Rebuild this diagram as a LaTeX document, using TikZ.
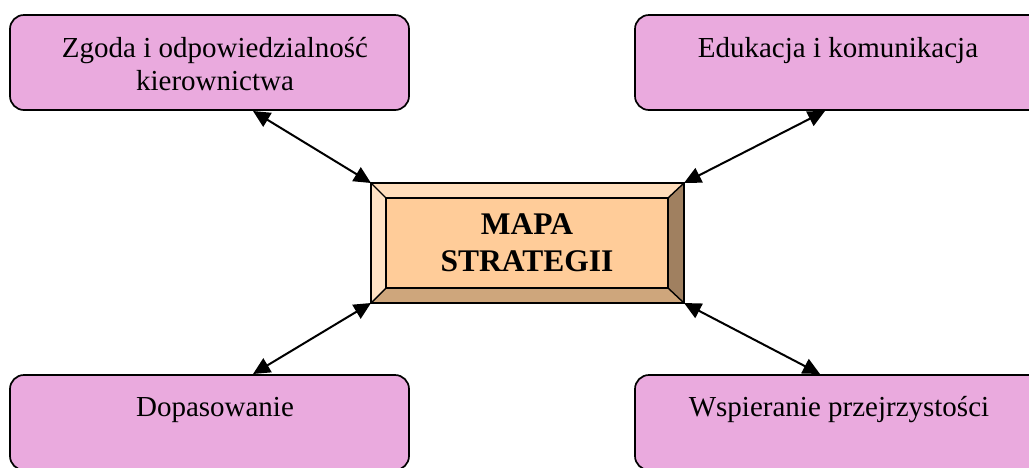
\documentclass[tikz,border=0pt]{standalone}
\usepackage{fontspec}
\setmainfont{Liberation Serif}
\usetikzlibrary{arrows.meta}
\definecolor{boxpink}{RGB}{234,170,222}
\definecolor{corepeach}{RGB}{255,204,153}
\definecolor{facetop}{RGB}{255,221,187}
\definecolor{faceleft}{RGB}{255,226,196}
\definecolor{faceright}{RGB}{160,128,96}
\definecolor{facebottom}{RGB}{206,166,124}
\begin{document}
\begin{tikzpicture}[x=1pt,y=-1pt,
  goalbox/.style={draw, line width=1.7pt, fill=boxpink, rounded corners=14pt,
    inner sep=0pt, outer sep=0pt},
  goaltext/.style={font=\fontsize{29}{33}\selectfont, align=center, inner sep=0pt, anchor=base},
  bevel/.style={draw, line width=1.4pt, line join=miter},
  link/.style={line width=2pt,
    {Triangle[length=17pt,width=16pt]}-{Triangle[length=17pt,width=16pt]}}]
\useasboundingbox (0,0) rectangle (1029,467);

% four goal boxes
\node[goalbox, minimum width=399pt, minimum height=95pt] (tl) at (209.5,62.5) {};
\node[goalbox, minimum width=407pt, minimum height=95pt] (tr) at (838.5,62.5) {};
\node[goalbox, minimum width=399pt, minimum height=95pt] (bl) at (209.5,422.5) {};
\node[goalbox, minimum width=407pt, minimum height=95pt] (br) at (838.5,422.5) {};

% the base anchor of a two-line node sits on its last line
\node[goaltext] (tltext) at (215,90.5) {Zgoda i odpowiedzialność\\kierownictwa};
\node[goaltext] (trtext) at (838,57.5) {Edukacja i komunikacja};
\node[goaltext] (bltext) at (215,416.5) {Dopasowanie};
\node[goaltext] (brtext) at (839,416.5) {Wspieranie przejrzystości};

% bevelled central frame
\node[minimum width=313pt, minimum height=120pt, inner sep=0pt, outer sep=0pt] (frame) at (527.5,243) {};
\path (386,198) coordinate (cnw) (668,198) coordinate (cne)
      (668,288) coordinate (cse) (386,288) coordinate (csw);
\fill[facetop] (frame.north west) -- (frame.north east) -- (cne) -- (cnw) -- cycle;
\fill[faceleft] (frame.north west) -- (cnw) -- (csw) -- (frame.south west) -- cycle;
\fill[faceright] (frame.north east) -- (frame.south east) -- (cse) -- (cne) -- cycle;
\fill[facebottom] (frame.south west) -- (csw) -- (cse) -- (frame.south east) -- cycle;
\draw[bevel] (frame.north west) rectangle (frame.south east);
\draw[bevel] (frame.north west) -- (cnw) (frame.north east) -- (cne)
             (frame.south east) -- (cse) (frame.south west) -- (csw);
\node[bevel, fill=corepeach, minimum width=282pt, minimum height=90pt, inner sep=0pt,
      outer sep=0pt, align=center, font=\bfseries\fontsize{31.5}{37}\selectfont]
      (core) at (527,243) {MAPA\\STRATEGII};

% connectors
\coordinate (tlend) at (253,111);
\coordinate (trend) at (825,111);
\coordinate (blend) at (253,374);
\coordinate (brend) at (820,374);
\draw[link] (tlend) -- (frame.north west);
\draw[link] (trend) -- (frame.north east);
\draw[link] (blend) -- (frame.south west);
\draw[link] (brend) -- (frame.south east);
\end{tikzpicture}
\end{document}
